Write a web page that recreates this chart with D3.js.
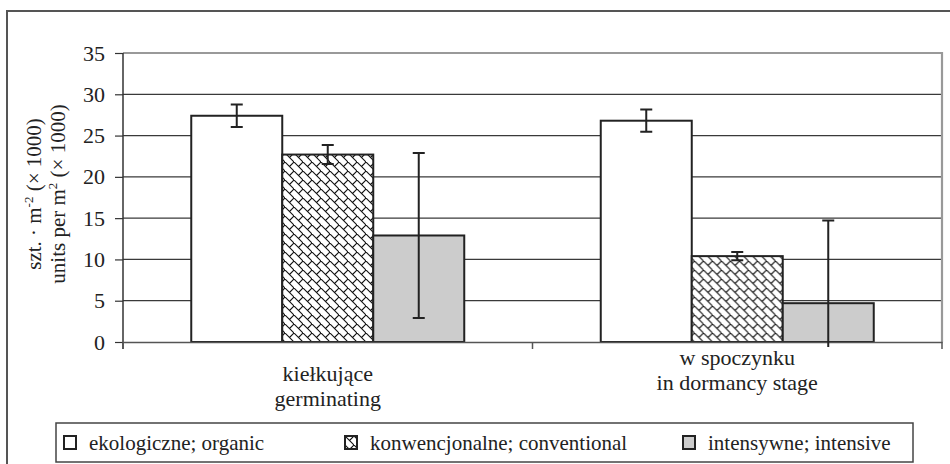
<!DOCTYPE html>
<html><head><meta charset="utf-8">
<script src="https://cdn.jsdelivr.net/npm/d3@7"></script>
<style>
html,body{margin:0;padding:0;background:#fff;}
svg{display:block;}
svg text{font-family:"Liberation Serif","Tinos","Times New Roman","DejaVu Serif",serif !important;}
</style></head>
<body><svg id="c" width="950" height="464"></svg>
<script>
// ---- data ----
const categories = ["kiełkujące\ngerminating", "w spoczynku\nin dormancy stage"];
const seriesNames = ["ekologiczne; organic", "konwencjonalne; conventional", "intensywne; intensive"];
const organic = [27.4, 26.8];
const organicErr = [1.35, 1.35];
const conventional = [22.7, 10.4];
const conventionalErr = [1.15, 0.5];
const intensive = [12.9, 4.7];
const intensiveErr = [10.0, 10.0];
const yTicks = [0, 5, 10, 15, 20, 25, 30, 35];

const seriesValues = [organic, conventional, intensive];
const seriesErrors = [organicErr, conventionalErr, intensiveErr];
const seriesFill = ["#ffffff", "url(#brick)", "#cccccc"];

const svg = d3.select("#c");
const defs = svg.append("defs");
const pat = defs.append("pattern").attr("id", "brick").attr("patternUnits", "userSpaceOnUse")
  .attr("width", 9).attr("height", 9);
pat.append("rect").attr("width", 9).attr("height", 9).attr("fill", "#fff");
pat.append("path").attr("d", "M-1,-1L10,10M4.5,4.5L9,0M0,9L-0.5,9.5")
  .attr("stroke", "#111").attr("stroke-width", 1.1).attr("fill", "none");

// outer frame
svg.append("rect").attr("x", 7).attr("y", 11).attr("width", 960).attr("height", 470)
  .attr("fill", "none").attr("stroke", "#555").attr("stroke-width", 2);

const L = 123, R = 942, T = 53, B = 342;
const x = d3.scaleBand().domain(categories).range([L, R]).padding(0);
const xs = d3.scaleBand().domain(seriesNames).range([0, x.bandwidth()]).paddingInner(0).paddingOuter(0.75);
const y = d3.scaleLinear().domain([0, 35]).range([B, T]);

// gridlines
svg.append("g").selectAll("line").data(yTicks.filter(d => d > 0 && d < 35)).join("line")
  .attr("x1", L).attr("x2", R).attr("y1", d => y(d)).attr("y2", d => y(d))
  .attr("stroke", "#3a3a3a").attr("stroke-width", 1.2);
// plot border top & right
svg.append("path").attr("d", `M${L},${y(35)}H${R}V${B}`).attr("fill", "none")
  .attr("stroke", "#999").attr("stroke-width", 2.2);

// y axis
const yAxis = d3.axisLeft(y).tickValues(yTicks).tickSize(8).tickPadding(10).tickFormat(d3.format("d"));
const gy = svg.append("g").attr("transform", `translate(${L},0)`).call(yAxis);
gy.attr("font-family", null);
gy.select(".domain").attr("stroke", "#333").attr("stroke-width", 1.5).attr("d", `M0,${y(35)}V${B + 7}`);
gy.selectAll(".tick line").attr("stroke", "#333").attr("stroke-width", 1.2);
gy.selectAll("text").attr("font-size", 22).attr("fill", "#222");

// bars
const groups = svg.append("g").selectAll("g").data(categories).join("g")
  .attr("transform", d => `translate(${x(d)},0)`);
seriesNames.forEach((s, si) => {
  groups.append("rect")
    .attr("x", xs(s)).attr("width", xs.bandwidth())
    .attr("y", (d, ci) => y(seriesValues[si][ci]))
    .attr("height", (d, ci) => y(0) - y(seriesValues[si][ci]))
    .attr("fill", seriesFill[si]).attr("stroke", "#222").attr("stroke-width", 2);
});

// x axis line + ticks
const xAxis = d3.axisBottom(x).tickSize(0).tickFormat("");
const gx = svg.append("g").attr("transform", `translate(0,${B})`).call(xAxis);
gx.select(".domain").attr("stroke", "#555").attr("stroke-width", 1.5);
gx.selectAll(".tick").remove();
const bounds = [L, x(categories[1]), R];
svg.append("g").selectAll("line").data(bounds).join("line")
  .attr("x1", d => d).attr("x2", d => d).attr("y1", B).attr("y2", B + 7)
  .attr("stroke", "#555").attr("stroke-width", 1.5);

// error bars
defs.append("clipPath").attr("id", "errclip").append("rect")
  .attr("x", L).attr("y", T - 5).attr("width", R - L).attr("height", B - T + 10);
const eg = svg.append("g").attr("clip-path", "url(#errclip)");
seriesNames.forEach((s, si) => {
  categories.forEach((c, ci) => {
    const cx = x(c) + xs(s) + xs.bandwidth() / 2;
    const v = seriesValues[si][ci], e = seriesErrors[si][ci];
    const y1 = y(v + e), y2 = y(v - e);
    eg.append("path").attr("d", `M${cx},${y1}V${y2}M${cx - 6},${y1}H${cx + 6}M${cx - 6},${y2}H${cx + 6}`)
      .attr("stroke", "#222").attr("stroke-width", 2).attr("fill", "none");
  });
});

// category labels
const catLabelY = [381, 365];
categories.forEach((c, ci) => {
  const t = svg.append("text").attr("text-anchor", "middle").attr("font-size", 22).attr("fill", "#222")
    .attr("x", x(c) + x.bandwidth() / 2).attr("y", catLabelY[ci]);
  c.split("\n").forEach((line, li) => {
    t.append("tspan").attr("x", x(c) + x.bandwidth() / 2).attr("dy", li === 0 ? 0 : 25).text(line);
  });
});

// y title
const yt = svg.append("text").attr("transform", "translate(0,194) rotate(-90)")
  .attr("text-anchor", "middle").attr("font-size", 21).attr("fill", "#222");
const l1 = yt.append("tspan").attr("x", 0).attr("y", 41);
l1.append("tspan").text("szt. · m");
l1.append("tspan").attr("font-size", 13).attr("dy", -8).text("-2");
l1.append("tspan").attr("dy", 8).text(" (× 1000)");
const l2 = yt.append("tspan").attr("x", 0).attr("y", 65);
l2.append("tspan").text("units per m");
l2.append("tspan").attr("font-size", 13).attr("dy", -8).text("2");
l2.append("tspan").attr("dy", 8).text(" (× 1000)");

// legend
svg.append("rect").attr("x", 56).attr("y", 423).attr("width", 857).attr("height", 39)
  .attr("fill", "#fff").attr("stroke", "#444").attr("stroke-width", 1.5);
const legX = [64, 345, 683];
seriesNames.forEach((s, si) => {
  const g = svg.append("g").attr("transform", `translate(${legX[si]},436)`);
  g.append("rect").attr("width", 12).attr("height", 13).attr("fill", seriesFill[si])
    .attr("stroke", "#222").attr("stroke-width", 2);
  g.append("text").attr("x", 25).attr("y", 14).attr("font-size", 21).attr("fill", "#222").text(s);
});
</script></body></html>
